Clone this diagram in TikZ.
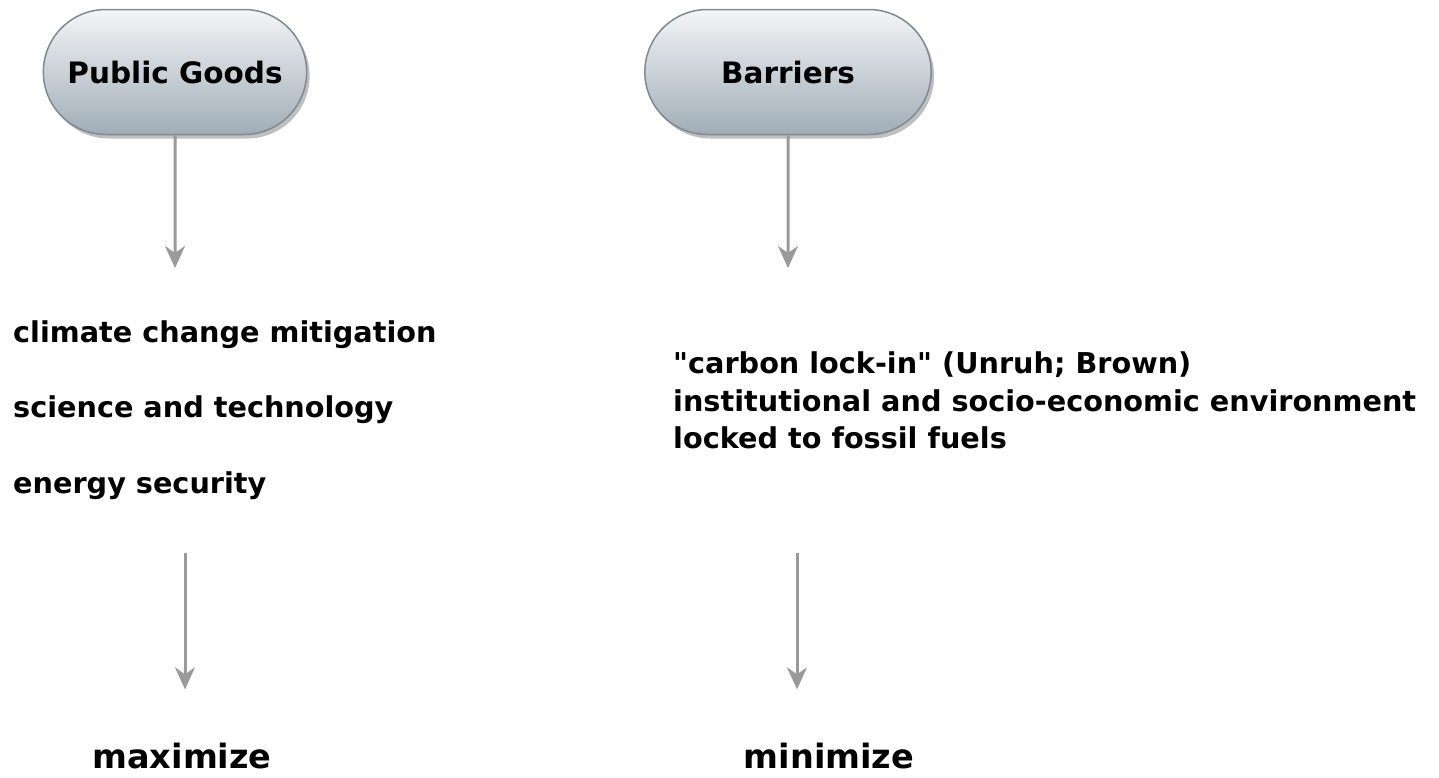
\documentclass[tikz,border=0pt]{standalone}
\usepackage{fontspec}
\setmainfont{DejaVu Sans}
\usepackage{xcolor}
\usepackage{tikz}
\usetikzlibrary{arrows.meta,shapes.misc,shadows}
\definecolor{pilltop}{HTML}{F4F5F7}
\definecolor{pillbot}{HTML}{A0ADB7}
\definecolor{pillrim}{HTML}{7F8A92}
\definecolor{flowgray}{HTML}{9A9A9A}
\tikzstyle{pill}=[rounded rectangle, draw=pillrim, line width=1.5pt,% light top, blue-grey bottom
top color=pilltop, bottom color=pillbot, minimum height=125pt,
font=\fontsize{29.5}{34}\selectfont\bfseries,
drop shadow={shadow xshift=3pt,shadow yshift=-4pt,opacity=0.5}]
\tikzstyle{item}=[anchor=base west, inner sep=0pt, font=\fontsize{28.7}{34}\selectfont\bfseries]
\tikzstyle{goal}=[anchor=base, inner sep=0pt, font=\fontsize{33.5}{40}\selectfont\bfseries]
\tikzstyle{flow}=[-{Stealth[length=22pt,width=20pt,inset=7pt]}, draw=flowgray, fill=flowgray, line width=3pt]

\begin{document}
\begin{tikzpicture}[x=1pt,y=-1pt]
\useasboundingbox (0,0) rectangle (1439,777);
\node[pill, minimum width=270pt] (goods) at (175,72) {Public Goods};
\node[pill, minimum width=293pt] (barr) at (788,72) {Barriers};
\node[item] (clim) at (13,342) {climate change mitigation};
\node[item] (sci) at (13,417) {science and technology};
\node[item] (ener) at (13,493) {energy security};
\node[item] (lock1) at (673,373) {\textquotedbl carbon lock-in\textquotedbl\ (Unruh; Brown)};
\node[item] (lock2) at (673,411) {institutional and socio-economic environment};
\node[item] (lock3) at (673,448) {locked to fossil fuels};
\node[goal] (maxi) at (182,768) {maximize};
\node[goal] (mini) at (829,768) {minimize};
\coordinate (gTip) at (175,268);
\coordinate (bTip) at (788,268);
\coordinate (gTop) at (185,553);
\coordinate (bTop) at (797,553);
\draw[flow] (goods) -- (gTip);
\draw[flow] (barr) -- (bTip);
\draw[flow, shorten >=53pt] (gTop) -- (gTop |- maxi.north);
\draw[flow, shorten >=53pt] (bTop) -- (bTop |- mini.north);
\end{tikzpicture}
\end{document}
